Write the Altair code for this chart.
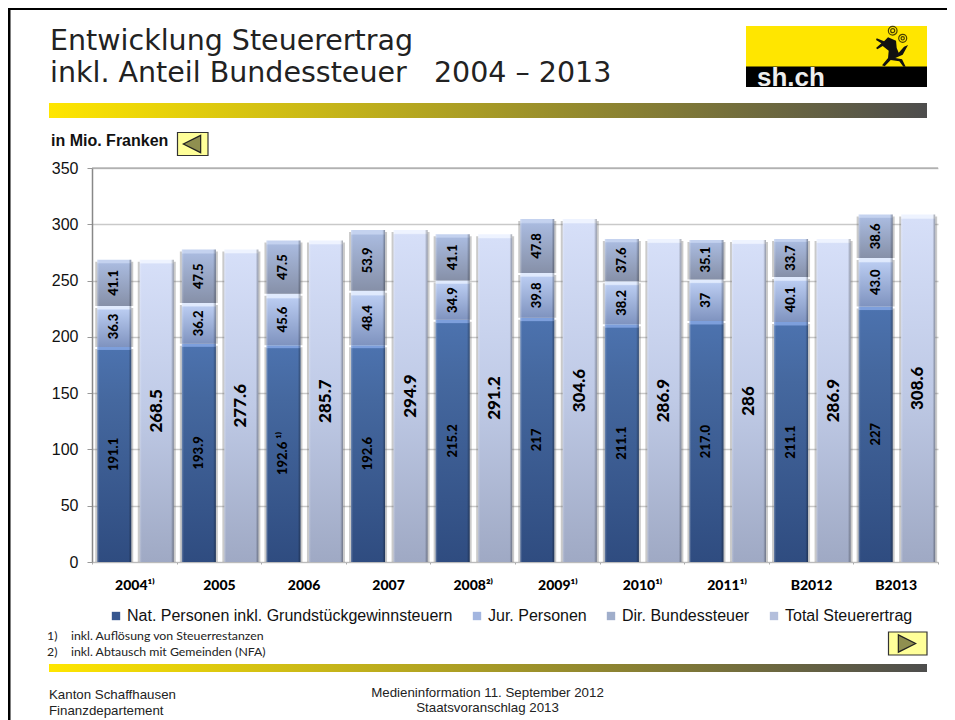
import altair as alt
import pandas as pd

years = ["2004¹⁾", "2005", "2006", "2007", "2008²⁾", "2009¹⁾", "2010¹⁾", "2011¹⁾", "B2012", "B2013"]
nat = [191.1, 193.9, 192.6, 192.6, 215.2, 217.0, 211.1, 214.0, 213.1, 227.0]
nat_labels = ["191.1", "193.9", "192.6 ¹⁾", "192.6", "215.2", "217", "211.1", "217.0", "211.1", "227"]
jur = [36.3, 36.2, 45.6, 48.4, 34.9, 39.8, 38.2, 37.0, 40.1, 43.0]
jur_labels = ["36.3", "36.2", "45.6", "48.4", "34.9", "39.8", "38.2", "37", "40.1", "43.0"]
bund = [41.1, 47.5, 47.5, 53.9, 41.1, 47.8, 37.6, 35.1, 33.7, 38.6]
bund_labels = ["41.1", "47.5", "47.5", "53.9", "41.1", "47.8", "37.6", "35.1", "33.7", "38.6"]
total = [268.5, 277.6, 285.7, 294.9, 291.2, 304.6, 286.9, 286.0, 286.9, 308.6]
total_labels = ["268.5", "277.6", "285.7", "294.9", "291.2", "304.6", "286.9", "286", "286.9", "308.6"]
series = ["Nat. Personen inkl. Grundstückgewinnsteuern", "Jur. Personen", "Dir. Bundessteuer", "Total Steuerertrag"]
legend_colors = ["#36568f", "#a3b6e0", "#a0aecb", "#b4bfdc"]
y_ticks = [0, 50, 100, 150, 200, 250, 300, 350]

rows = []
for i, y in enumerate(years):
    b = 0.0
    for s, v, l in zip(series[:3], (nat[i], jur[i], bund[i]), (nat_labels[i], jur_labels[i], bund_labels[i])):
        rows.append(dict(year=y, side="a", series=s, base=b, top=b + v, mid=b + v / 2, label=l))
        b += v
    rows.append(dict(year=y, side="b", series=series[3], base=0.0, top=total[i], mid=total[i] / 2, label=total_labels[i]))
df = pd.DataFrame(rows)

PL, PT, W, H = 92, 168, 846, 394
xs = alt.X("year:N", sort=years, scale=alt.Scale(paddingInner=0, paddingOuter=0),
           axis=alt.Axis(title=None, labelAngle=0, labelFont="Lato", labelFontWeight=900, labelFontSize=14,
                         labelColor="#000", labelPadding=14, tickBand="extent", tickSize=2, tickColor="#aaa",
                         domainColor="#bbb", domainWidth=1, grid=False, labelLimit=200))
xo = alt.XOffset("side:N", scale=alt.Scale(domain=["a", "b"], paddingInner=0.2, paddingOuter=0.095, align=0.65))
yscale = alt.Scale(domain=[0, 350], nice=False)
yaxis = alt.Axis(title=None, values=y_ticks, labelFont="Liberation Sans", labelFontSize=16, labelColor="#111",
                 tickSize=5, tickColor="#999", domainColor="#888", domainWidth=1.5, gridColor="#c9c9c9",
                 gridWidth=1.5, labelPadding=9)
ys = alt.Y("top:Q", scale=yscale, axis=yaxis)
ym = alt.Y("mid:Q", scale=yscale, axis=yaxis)


def grad(stops, horizontal=False):
    st = [alt.GradientStop(color=c, offset=o) for o, c in stops]
    if horizontal:
        return alt.LinearGradient(gradient="linear", stops=st, x1=0, x2=1, y1=0, y2=0)
    return alt.LinearGradient(gradient="linear", stops=st, x1=0, x2=0, y1=0, y2=1)


top_stops = {
    series[0]: [(0, "#7d9fdc"), (0.012, "#7d9fdc"), (0.016, "#4c72ae"), (0.25, "#45689f"), (1, "#2f4c80")],
    series[1]: [(0, "#e0eafd"), (0.07, "#e0eafd"), (0.1, "#b9cbf0"), (1, "#7f93bf")],
    series[2]: [(0, "#c4d2ef"), (0.06, "#c4d2ef"), (0.09, "#a9bade"), (1, "#8690a8")],
    series[3]: [(0, "#eef3ff"), (0.01, "#eef3ff"), (0.014, "#d6dff8"), (0.5, "#bfcae6"), (1, "#9fa9c4")],
}
base = alt.Chart(df)


def page_x(p):
    return alt.value(p - PL)


def page_y(p):
    return alt.value(p - PT)


one = alt.Data(values=[{"k": 1}])


def rect(x0, x1, y0, y1, fill, **kw):
    return alt.Chart(one).mark_rect(color=fill, **kw).encode(x=page_x(x0), x2=page_x(x1), y=page_y(y0), y2=page_y(y1))


def text(x, y, s, **kw):
    return alt.Chart(alt.Data(values=[{"t": s}])).mark_text(baseline="alphabetic", **kw).encode(
        x=page_x(x), y=page_y(y), text="t:N")


def shape(x, y, path, size, **kw):
    return alt.Chart(one).mark_point(shape=path, size=size, **kw).encode(x=page_x(x), y=page_y(y))


def poly(zoom_pts):
    return "M" + " L".join(f"{(a - 455) / 60:.3f},{(b - 80) / 60:.3f}" for a, b in zoom_pts) + " Z"


def circ(cx, cy, r):
    x, y, q = (cx - 455) / 60, (cy - 80) / 60, r / 60
    return f"M{x - q:.3f},{y:.3f} A{q:.3f},{q:.3f} 0 1 0 {x + q:.3f},{y:.3f} A{q:.3f},{q:.3f} 0 1 0 {x - q:.3f},{y:.3f} "


# slide furniture
bar_grad = grad([(0, "#FFE600"), (1, "#4D4D4D")], horizontal=True)
goat = [(444, 52), (468, 62), (470, 84), (476, 98), (492, 80), (504, 75), (488, 104), (466, 114),
        (486, 118), (497, 140), (490, 140), (478, 124), (452, 120), (434, 139), (426, 136),
        (444, 114), (446, 92), (428, 78), (412, 88), (408, 84), (424, 70), (408, 60), (410, 55), (432, 64)]
furn = [
    rect(8, 955, 7.5, 10, "#000"),
    rect(8, 10.5, 8, 720, "#000"),
    rect(746, 927, 26, 67, "#FFE600"),
    rect(746, 927, 66.5, 87, "#000"),
    text(757, 86, "sh.ch", font="Liberation Sans", fontWeight="bold", fontSize=26, color="#eee", align="left"),
    shape(891.7, 46.7, poly(goat), 1600, filled=True, color="#111", opacity=1),
    shape(891.7, 46.7, circ(458, 32, 13) + circ(458, 32, 6) + circ(488, 55, 12) + circ(488, 55, 5), 1600, filled=False,
          stroke="#4a4000", strokeWidth=1.2, opacity=1),
    alt.Chart(one).mark_rect(color=bar_grad).encode(x=page_x(49), x2=page_x(927), y=page_y(103), y2=page_y(118)),
    alt.Chart(one).mark_rect(color=bar_grad).encode(x=page_x(49), x2=page_x(927), y=page_y(664), y2=page_y(672)),
    text(50, 50, "Entwicklung Steuerertrag", font="DejaVu Sans", fontSize=28.5, color="#222", align="left"),
    text(50, 82, "inkl. Anteil Bundessteuer\u00a0\u00a0\u00a02004 – 2013", font="DejaVu Sans", fontSize=28.5, color="#222", align="left"),
    text(51, 146, "in Mio. Franken", font="Liberation Sans", fontWeight="bold", fontSize=16, color="#111", align="left"),
    rect(177.5, 208, 132.5, 155.5, "#FFFF99", stroke="#333", strokeWidth=1.2),
    shape(192, 144, "M1,-1 L-1,0 L1,1 Z", 300, filled=True, fill="#8F8F50", stroke="#222", strokeWidth=1.2, opacity=1),
    rect(888.5, 927, 632, 655, "#FFFF99", stroke="#333", strokeWidth=1.2),
    shape(907, 643.5, "M-1,-1 L1,0 L-1,1 Z", 300, filled=True, fill="#8F8F50", stroke="#222", strokeWidth=1.2, opacity=1),
    text(47, 640, "1)", font="Lato", fontSize=12.3, color="#222", align="left"),
    text(71, 640, "inkl. Auflösung von Steuerrestanzen", font="Lato", fontSize=12.3, color="#222", align="left"),
    text(47, 656, "2)", font="Lato", fontSize=12.3, color="#222", align="left"),
    text(71, 656, "inkl. Abtausch mit Gemeinden (NFA)", font="Lato", fontSize=12.3, color="#222", align="left"),
    text(49, 699, "Kanton Schaffhausen", font="Liberation Sans", fontSize=13.3, color="#222", align="left"),
    text(49, 715, "Finanzdepartement", font="Liberation Sans", fontSize=13.3, color="#222", align="left"),
    text(487.5, 697, "Medieninformation 11. September 2012", font="Liberation Sans", fontSize=13.3, color="#222", align="center"),
    text(487.5, 712, "Staatsvoranschlag 2013", font="Liberation Sans", fontSize=13.3, color="#222", align="center"),
]

enc = dict(x=xs, xOffset=xo, y=ys, y2="base:Q")

ghost = base.mark_bar(opacity=0).encode(
    **enc,
    color=alt.Color("series:N", sort=None, scale=alt.Scale(domain=series, range=legend_colors),
                    legend=alt.Legend(title=None, orient="none", legendX=116 - PL - 8, legendY=608 - PT, direction="horizontal",
                                      symbolType="square", symbolSize=70, symbolOpacity=1, symbolStrokeWidth=0,
                                      labelFont="Liberation Sans", labelFontSize=16, labelColor="#111",
                                      columnPadding=16, labelOffset=3, labelLimit=400, symbolOffset=0)),
)

shadow = base.mark_bar(width=38, color="#666", opacity=0.35, yOffset=2).encode(**enc)
marks = []
for s in series:
    sub = base.transform_filter(alt.datum.series == s)
    marks.append(sub.mark_bar(color=grad(top_stops[s])).encode(**enc))
edges = base.mark_bar(color=grad([(0, "rgba(255,255,255,0.25)"), (0.06, "rgba(255,255,255,0)"),
                                  (0.92, "rgba(0,0,0,0)"), (1, "rgba(0,0,0,0.33)")], horizontal=True)).encode(**enc)

label_stack = base.transform_filter(alt.datum.side == "a").mark_text(
    angle=270, font="Lato", fontWeight=900, fontSize=13, color="#000", align="center", baseline="middle"
).encode(x=xs, xOffset=xo, y=ym, text="label:N")
label_total = base.transform_filter(alt.datum.side == "b").mark_text(
    angle=270, font="Lato", fontWeight=900, fontSize=17, color="#000", align="center", baseline="middle"
).encode(x=xs, xOffset=xo, y=ym, text="label:N")

top_rule = alt.Chart(alt.Data(values=[{"v": 350}])).mark_rule(color="#9a9a9a", strokeWidth=1).encode(
    y=alt.Y("v:Q", scale=yscale, axis=yaxis))

chart = alt.layer(ghost, *furn, top_rule, shadow, *marks, edges, label_stack, label_total).resolve_scale(
    x="shared", y="shared"
).properties(
    width=W, height=H,
    autosize=alt.AutoSizeParams(type="none"),
    padding={"left": PL - 8, "top": PT - 8, "right": 955 - 8 - PL - W, "bottom": 720 - PT - H},
    background="white",
).configure_view(stroke=None)

chart.save("out.html", embed_options={"renderer": "svg", "actions": False})
